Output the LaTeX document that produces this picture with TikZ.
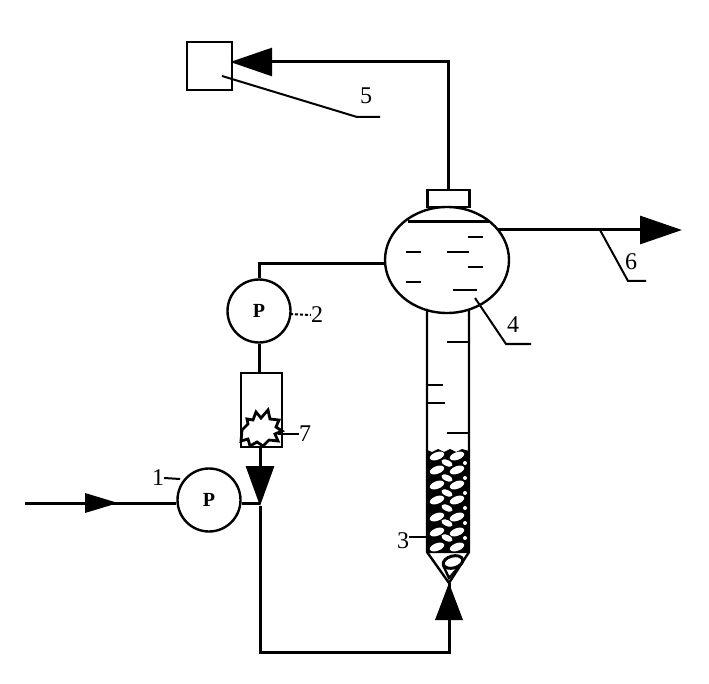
\documentclass[tikz,border=0pt]{standalone}
\usepackage{fontspec}
\setmainfont{Liberation Serif}
\usetikzlibrary{arrows.meta, shapes.geometric}
\tikzset{
  pipe/.style = {line width = 3pt},
  leader/.style = {line width = 2pt},
  bigtip/.style = {-{Triangle[length = 42pt, width = 28pt]}},
  unit/.style = {draw, line width = 2.4pt, inner sep = 0pt},
  pump/.style = {unit, circle, minimum size = 63pt, font = \fontsize{20}{20}\selectfont\bfseries},
  tag/.style = {inner sep = 0pt, font = \fontsize{24}{24}\selectfont},
  fleck/.style = {line width = 2.4pt}
}
\begin{document}
\begin{tikzpicture}[x = 1pt, y = -1pt]
\useasboundingbox (0, 0) rectangle (709, 684);
% units
\node [unit, minimum width = 45pt, minimum height = 48pt] (receiver) at (209.5, 66) {};
\node [unit, ellipse, minimum width = 124pt, minimum height = 106pt] (vessel) at (447, 260) {};
\node [unit, minimum width = 42pt, minimum height = 17pt] (cap) at (448.5, 198.5) {};
\node [pump] (pumpb) at (259, 311) {P};
\node [pump] (pumpa) at (209, 500) {P};
\node [unit, minimum width = 41pt, minimum height = 74pt] (filter) at (261.5, 410) {};
\coordinate (feed) at (25, 503);
\coordinate (joint) at (260, 506);
\coordinate (bottom) at (449, 583);
\coordinate (outlet) at (682, 230);
% column
\fill (427, 450) -- (432, 452) -- (438, 449) -- (444, 452) -- (450, 449) -- (456, 452) -- (462, 449) -- (469, 451) -- (469, 553) -- (427, 553) -- cycle;
\foreach \rowy in {456, 470, 485, 500, 517, 532, 547} {
  \fill [white, rotate around = {20:(437, \rowy)}] (437, \rowy) ellipse (7.5 and 3.8);
  \fill [white, rotate around = {20:(457, \rowy)}] (457, \rowy) ellipse (7.5 and 3.8);
}
\foreach \rowy in {463, 478, 493, 508, 523, 538} {
  \fill [white, rotate around = {-25:(447, \rowy)}] (447, \rowy) ellipse (6 and 3);
  \fill [white] (465, \rowy) circle (2);
}
\draw [unit] (427, 309) -- (427, 552) -- (449, 583) -- (469, 552) -- (469, 309);
\draw [fill = white, line width = 3pt, rotate around = {15:(453, 562)}] (453, 562) ellipse (10 and 6);
\draw [line width = 2.4pt] (443, 565) -- (449, 578) -- (458, 568);
% filter packing
\draw [fill = white, line width = 2.8pt] (242, 430) -- (248, 424) -- (247, 419) -- (253, 420) -- (256, 412) -- (261, 418) -- (268, 410) -- (270, 419) -- (279, 420) -- (276, 427) -- (282, 431) -- (275, 434) -- (278, 441) -- (269, 440) -- (263, 446) -- (257, 442) -- (250, 446) -- (248, 439) -- (241, 441) -- cycle;
% pipes
\draw [pipe, bigtip, shorten > = -3pt] (cap.north) |- (receiver.east |- 0, 62);
\draw [pipe, bigtip] (498, 230) -- (outlet);
\draw [pipe] (vessel.west |- 0, 264) -| (pumpb.north);
\draw [pipe] (pumpb.south) -- (pumpb.south |- filter.north);
\draw [pipe, {Triangle[length = 40pt, width = 28pt]}-] (joint) -- (joint |- filter.south);
\draw [pipe] (feed) -- (pumpa.west |- 0, 503);
\fill (118, 503) -- (85, 493) -- (85, 513) -- cycle;
\draw [pipe] (pumpa.east |- 0, 503) -- (joint |- 0, 503);
\draw [pipe] (joint) |- (449, 652) -- (bottom);
\fill (bottom) -- (463, 620) -- (435, 620) -- cycle;
% liquid
\draw [line width = 3pt] (408, 222) -- (489, 222);
\foreach \xa/\xb/\flecky in {468/483/237, 406/421/252, 447/469/252, 468/483/267, 406/421/282, 453/477/290, 447/468/342, 428/443/385, 428/445/403, 447/468/433} {
  \draw [fleck] (\xa, \flecky) -- (\xb, \flecky);
}
% labels
\node [tag] (taga) at (158, 478) {1};
\node [tag] (tagb) at (317, 315) {2};
\node [tag] (tagc) at (403, 541) {3};
\node [tag] (tagd) at (513, 325) {4};
\node [tag] (tage) at (366, 96) {5};
\node [tag] (tagf) at (631, 262) {6};
\node [tag] (tagg) at (305, 434) {7};
\coordinate (kneed) at (506, 344);
\coordinate (kneee) at (357, 117);
\coordinate (kneef) at (628, 281);
\draw [leader] (taga.east) -- (180, 479);
\draw [leader, densely dashed] (290, 314) -- (tagb.west);
\draw [leader] (tagc.east) ++(0, -4) -- (427, 537);
\draw [leader] (475, 298) -- (kneed) -- (531, 344);
\draw [leader] (222, 76) -- (kneee) -- (380, 117);
\draw [leader] (600, 230) -- (kneef) -- (646, 281);
\draw [leader] (278, 434) -- (tagg.west);
\end{tikzpicture}
\end{document}
